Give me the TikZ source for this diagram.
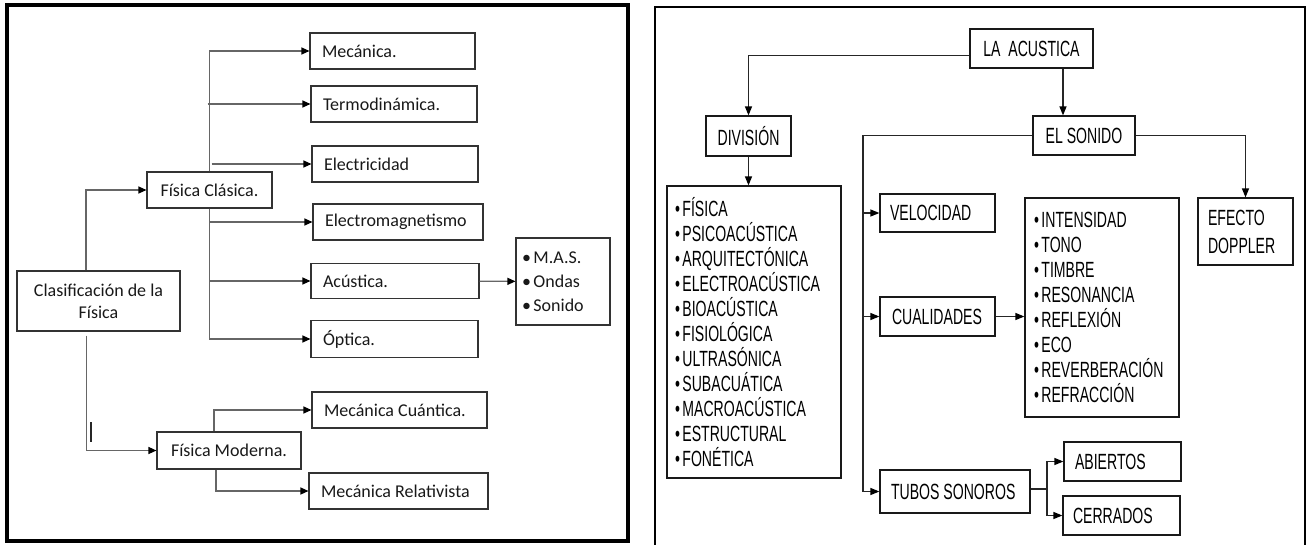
\documentclass[tikz,border=0pt]{standalone}
\usepackage{fontspec}
\newfontfamily\calfont{Carlito}
\newfontfamily\narfont[FakeStretch=0.64]{Liberation Sans}
\usetikzlibrary{arrows.meta}
\tikzset{
 lb/.style={draw=black!80, line width=1.1pt, fill=white, font=\calfont\fontsize{18}{22}\selectfont, inner sep=0pt, inner xsep=12pt, text=black!90},
 rb/.style={draw=black!90, line width=1.2pt, fill=white, font=\narfont\fontsize{22}{25}\selectfont, inner sep=0pt, inner xsep=10pt},
 ll/.style={draw=black!60, line width=1.2pt},
 la/.style={ll, -{Triangle[length=8pt,width=7pt,color=black]}},
 rl/.style={draw=black!85, line width=1.2pt},
 ra/.style={rl, -{Triangle[length=9pt,width=7pt,color=black]}},
 frame/.style={draw=black, line width=3.2pt},
}
\begin{document}
\begin{tikzpicture}[x=1pt,y=-1pt]
\useasboundingbox (0,0) rectangle (1312,544);
% frames
\draw[frame] (7,5) rectangle (628,541);
\draw[frame, line width=2.6pt] (655,548) -- (655,7) -- (1305,7) -- (1305,548);

% ---------------- left panel ----------------
\node[lb, minimum width=165pt, minimum height=36pt, text width=141pt, align=flush left] (mec) at (392.5,51) {Mecánica.};
\node[lb, minimum width=166pt, minimum height=36pt, text width=142pt, align=flush left] (ter) at (394,104) {Termodinámica.};
\node[lb, minimum width=166pt, minimum height=36pt, text width=142pt, align=flush left] (ele) at (395,164) {Electricidad};
\node[lb, minimum width=170pt, minimum height=36pt, text width=146pt, align=flush left] (elm) at (398,222) {Electromagnetismo};
\node[lb, minimum width=168pt, minimum height=35pt, text width=144pt, align=flush left] (acu) at (395,281) {Acústica.};
\node[lb, minimum width=167pt, minimum height=37pt, text width=143pt, align=flush left] (opt) at (394.5,339) {Óptica.};
\node[lb, minimum width=175pt, minimum height=36pt, text width=151pt, align=flush left] (mcu) at (399.5,410) {Mecánica Cuántica.};
\node[lb, minimum width=179pt, minimum height=36pt, text width=155pt, align=flush left] (mre) at (398.5,491) {Mecánica Relativista};
\node[lb, minimum width=125pt, minimum height=36pt, align=flush center] (fcl) at (209.5,190) {Física Clásica.};
\node[lb, minimum width=163pt, minimum height=60pt, align=flush center] (cla) at (98.5,301) {Clasificación de la\\Física};
\node[lb, minimum width=144pt, minimum height=37pt, align=flush center] (fmo) at (229,450.5) {Física Moderna.};
\node[lb, minimum width=94pt, minimum height=87pt, inner xsep=6pt, text width=82pt, align=flush left, font=\calfont\fontsize{18}{24}\selectfont] (mas) at (563,281.5) {•\hspace{2.5pt}M.A.S.\\•\hspace{2.5pt}Ondas\\•\hspace{2.5pt}Sonido};

\draw[la] (fcl.north) |- (mec);
\draw[la] ([xshift=-2pt]fcl.north |- ter) -- (ter);
\draw[la] ([xshift=2pt]fcl.north |- ele) -- (ele);
\draw[la] (fcl.south) |- (elm);
\draw[la] (fcl.south |- acu) -- (acu);
\draw[la] (fcl.south) |- (opt);
\draw[la] ([xshift=-12.5pt]cla.north) |- (fcl);
\draw[la] ([xshift=-12pt,yshift=-4pt]cla.south) |- (fmo);
\draw[la] ([xshift=-15pt]fmo.north) |- (mcu);
\draw[la] ([xshift=-13pt]fmo.south) |- (mre);
\draw[la] (acu) -- (mas);
\coordinate (s1) at (91,422);
\coordinate (s2) at (91,442);
\draw[line width=1.4pt, draw=black!85] (s1) -- (s2);

% ---------------- right panel ----------------
\node[rb, minimum width=123pt, minimum height=39pt, align=flush center] (lac) at (1031.5,48.5) {LA\ \ ACUSTICA};
\node[rb, minimum width=85pt, minimum height=40pt, align=flush center] (div) at (748.5,136) {DIVISIÓN};
\node[rb, minimum width=174pt, minimum height=292pt, inner xsep=8pt, text width=158pt, align=flush left] (dlist) at (754,332)
 {•\hspace{2.5pt}FÍSICA\\•\hspace{2.5pt}PSICOACÚSTICA\\•\hspace{2.5pt}ARQUITECTÓNICA\\•\hspace{2.5pt}ELECTROACÚSTICA\\•\hspace{2.5pt}BIOACÚSTICA\\•\hspace{2.5pt}FISIOLÓGICA\\•\hspace{2.5pt}ULTRASÓNICA\\•\hspace{2.5pt}SUBACUÁTICA\\•\hspace{2.5pt}MACROACÚSTICA\\•\hspace{2.5pt}ESTRUCTURAL\\•\hspace{2.5pt}FONÉTICA};
\node[rb, minimum width=102pt, minimum height=39pt, align=flush center] (son) at (1084,135.5) {EL SONIDO};
\node[rb, minimum width=115pt, minimum height=38pt, text width=95pt, align=flush left] (vel) at (937.5,213) {VELOCIDAD};
\node[rb, minimum width=154pt, minimum height=219pt, inner xsep=9pt, text width=136pt, align=flush left] (clist) at (1102,307.5)
 {•\hspace{2.5pt}INTENSIDAD\\•\hspace{2.5pt}TONO\\•\hspace{2.5pt}TIMBRE\\•\hspace{2.5pt}RESONANCIA\\•\hspace{2.5pt}REFLEXIÓN\\•\hspace{2.5pt}ECO\\•\hspace{2.5pt}REVERBERACIÓN\\•\hspace{2.5pt}REFRACCIÓN};
\node[rb, minimum width=95pt, minimum height=67pt, text width=75pt, align=flush left] (efd) at (1245.5,231.5) {EFECTO\\[3pt]DOPPLER};
\node[rb, minimum width=115pt, minimum height=39pt, inner xsep=12pt, text width=91pt, align=flush left] (cua) at (937.5,316.5) {CUALIDADES};
\node[rb, minimum width=150pt, minimum height=43pt, inner xsep=11pt, text width=128pt, align=flush left] (tub) at (955,491.5) {TUBOS SONOROS};
\node[rb, minimum width=117pt, minimum height=39pt, inner xsep=11pt, text width=95pt, align=flush left] (abi) at (1122.5,461.5) {ABIERTOS};
\node[rb, minimum width=117pt, minimum height=39pt, inner xsep=10pt, text width=97pt, align=flush left] (cer) at (1121.5,515.5) {CERRADOS};

\draw[ra] ([yshift=-7pt]lac.west) -| (div);
\draw[ra] ([xshift=31.5pt]lac.south) -- ([xshift=31.5pt]lac.south |- son.north);
\draw[ra] (div.south) -- (div.south |- dlist.north);
\coordinate (tt) at (863,135.5);
\draw[rl] (son.west) -- (tt) -- (tt |- tub);
\draw[ra] (tt |- vel) -- (vel);
\draw[ra] (tt |- cua) -- (cua);
\draw[ra] (tt |- tub) -- (tub);
\draw[ra] (son.east) -| (efd);
\draw[ra] (cua.east) -- (cua.east -| clist.west);
\coordinate (tj) at (1047,489);
\draw[rl] ([yshift=2.5pt]tub.east) -- (tj);
\draw[ra] (tj) |- (abi);
\draw[ra] (tj) |- (cer);
\end{tikzpicture}
\end{document}
